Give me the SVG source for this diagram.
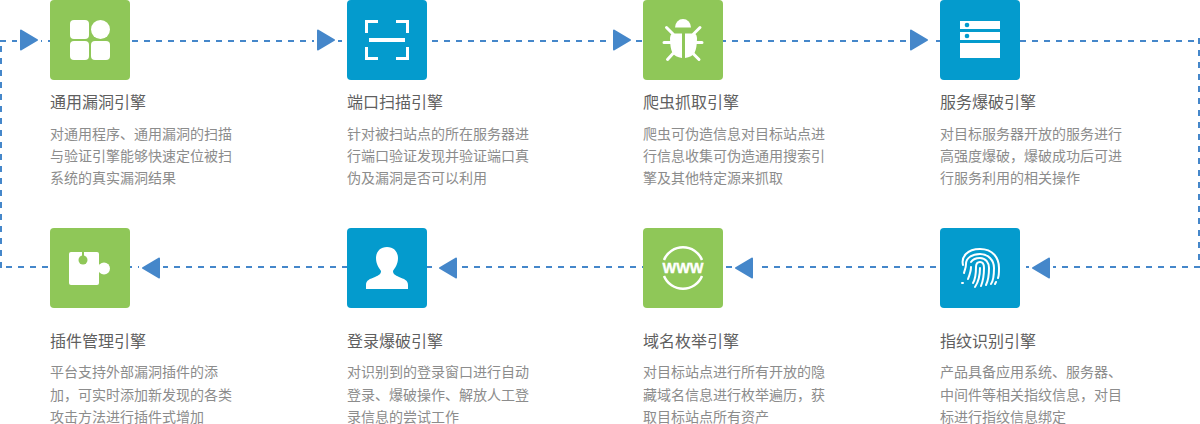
<svg xmlns="http://www.w3.org/2000/svg" width="1200" height="424" viewBox="0 0 1200 424">
<style>
text{font-family:"Noto Sans CJK SC","Noto Sans",sans-serif}
.t{font-size:16px;fill:#5f5f5f}
.d{font-size:14px;fill:#8c8c8c}
.dash{fill:none;stroke:#4587ca;stroke-width:2;stroke-dasharray:6 6}
.arr{fill:#4587ca;stroke:#4587ca;stroke-width:2;stroke-linejoin:round}
.g{fill:#8fc758}
.b{fill:#049bcd}
.w{fill:#fff}
.ws{fill:none;stroke:#fff;stroke-width:2.500}
.h{fill:#fff}
</style>
<g id="connectors">
<path class="dash" d="M0 41H1200"/>
<path class="dash" d="M1199 38V268"/>
<path class="dash" d="M1200 267H0" stroke-dashoffset="0"/>
<path class="dash" d="M1 46V268"/>
<rect x="17" y="26" width="24" height="30" class="h"/><rect x="314" y="26" width="24" height="30" class="h"/><rect x="610" y="26" width="24" height="30" class="h"/><rect x="907" y="26" width="24" height="30" class="h"/>
<rect x="139" y="253" width="24" height="30" class="h"/><rect x="436" y="253" width="24" height="30" class="h"/><rect x="732" y="253" width="24" height="30" class="h"/><rect x="1029" y="253" width="24" height="30" class="h"/>
<path class="arr" d="M21 30.500L37 40L21 49.500Z"/>
<path class="arr" d="M318 30.500L334 40L318 49.500Z"/>
<path class="arr" d="M614 30.500L630 40L614 49.500Z"/>
<path class="arr" d="M911 30.500L927 40L911 49.500Z"/>
<path class="arr" d="M159 258.500L143 268L159 277.500Z"/>
<path class="arr" d="M456 258.500L440 268L456 277.500Z"/>
<path class="arr" d="M752 258.500L736 268L752 277.500Z"/>
<path class="arr" d="M1049 258.500L1033 268L1049 277.500Z"/>
</g>
<g id="node1">
<rect x="50" y="0" width="80" height="80" rx="4" class="g"/>
<rect x="70" y="20" width="19" height="19" rx="4" class="w"/><circle cx="100.500" cy="29.500" r="9.500" class="w"/>
<rect x="70" y="41" width="19" height="19" rx="4" class="w"/><rect x="91" y="41" width="19" height="19" rx="4" class="w"/>
<text class="t" x="50" y="108">通用漏洞引擎</text>
<text class="d" x="50" y="139">对通用程序、通用漏洞的扫描</text>
<text class="d" x="50" y="161">与验证引擎能够快速定位被扫</text>
<text class="d" x="50" y="183">系统的真实漏洞结果</text>
</g>
<g id="node2">
<rect x="347" y="0" width="80" height="80" rx="4" class="b"/>
<path fill="none" stroke="#fff" stroke-width="3" d="M378 21.500H366.500V33M396 21.500H407.500V33M378 58.500H366.500V47M396 58.500H407.500V47"/>
<rect x="369" y="38" width="36" height="4" class="w"/>
<text class="t" x="347" y="108">端口扫描引擎</text>
<text class="d" x="347" y="139">针对被扫站点的所在服务器进</text>
<text class="d" x="347" y="161">行端口验证发现并验证端口真</text>
<text class="d" x="347" y="183">伪及漏洞是否可以利用</text>
</g>
<g id="node3">
<rect x="643" y="0" width="80" height="80" rx="4" class="g"/>
<path class="w" d="M675 27.500a8 8.500 0 0 1 16 0Z"/>
<path class="w" d="M672 33.500H682V58Q675 57 672.500 53Q670 48 670 38Q670 35 672 33.500ZM685 33.500H695Q697 35 697 38Q697 48 694.500 53Q692 57 685 58Z"/>
<path fill="none" stroke="#fff" stroke-width="3" stroke-linecap="round" d="M666.500 27.500L673 34M700 27.500L693.500 34M664 42.500H672M702 42.500H695M667.500 59.500L673 53.500M699 59.500L693.500 54"/>
<text class="t" x="643" y="108">爬虫抓取引擎</text>
<text class="d" x="643" y="139">爬虫可伪造信息对目标站点进</text>
<text class="d" x="643" y="161">行信息收集可伪造通用搜索引</text>
<text class="d" x="643" y="183">擎及其他特定源来抓取</text>
</g>
<g id="node4">
<rect x="940" y="0" width="80" height="80" rx="4" class="b"/>
<rect x="960" y="21" width="40" height="8" class="w"/><rect x="960" y="32" width="40" height="8" class="w"/><rect x="960" y="43" width="40" height="15" class="w"/>
<circle cx="967" cy="25" r="2.300" class="b"/><circle cx="967" cy="36" r="2.300" class="b"/>
<text class="t" x="940" y="108">服务爆破引擎</text>
<text class="d" x="940" y="139">对目标服务器开放的服务进行</text>
<text class="d" x="940" y="161">高强度爆破，爆破成功后可进</text>
<text class="d" x="940" y="183">行服务利用的相关操作</text>
</g>
<g id="node5">
<rect x="50" y="228" width="80" height="80" rx="4" class="g"/>
<rect x="69" y="252" width="30" height="33" rx="2" class="w"/>
<circle cx="104" cy="268.500" r="6" class="w"/>
<rect x="82" y="252" width="2" height="5" class="g"/><circle cx="83" cy="260" r="4.500" class="g"/>
<text class="t" x="50" y="347">插件管理引擎</text>
<text class="d" x="50" y="377">平台支持外部漏洞插件的添</text>
<text class="d" x="50" y="399.500">加，可实时添加新发现的各类</text>
<text class="d" x="50" y="421.500">攻击方法进行插件式增加</text>
</g>
<g id="node6">
<rect x="347" y="228" width="80" height="80" rx="4" class="b"/>
<path class="w" d="M387 247C380 247 376 252 376 258C376 264 379 268 381 271C381 274 379 275 375 277C370 279 366 280 366 285V289H408V285C408 280 404 279 399 277C395 275 393 274 393 271C395 268 398 264 398 258C398 252 394 247 387 247Z"/>
<text class="t" x="347" y="347">登录爆破引擎</text>
<text class="d" x="347" y="377">对识别到的登录窗口进行自动</text>
<text class="d" x="347" y="399.500">登录、爆破操作、解放人工登</text>
<text class="d" x="347" y="421.500">录信息的尝试工作</text>
</g>
<g id="node7">
<rect x="643" y="228" width="80" height="80" rx="4" class="g"/>
<path class="ws" d="M664 260A20.500 20.500 0 0 1 702 260M664 276A20.500 20.500 0 0 0 702 276"/>
<text x="683" y="273" text-anchor="middle" style="font-family:'Liberation Sans',sans-serif;font-size:14.500px;font-weight:700;fill:#fff;stroke:#fff;stroke-width:.4">WWW</text>
<text class="t" x="643" y="347">域名枚举引擎</text>
<text class="d" x="643" y="377">对目标站点进行所有开放的隐</text>
<text class="d" x="643" y="399.500">藏域名信息进行枚举遍历，获</text>
<text class="d" x="643" y="421.500">取目标站点所有资产</text>
</g>
<g id="node8">
<rect x="940" y="228" width="80" height="80" rx="4" class="b"/>
<g fill="none" stroke="#fff" stroke-width="2" stroke-linecap="round">
<path d="M963 265C961 257 967 249 980 249C993 249 999 258 999 268C999 272 999 276 998 278"/>
<path d="M964 273C964.500 270 966 268 966 264C966 258 972 254 980 254C988 254 994 260 994 268C994 273 994 280 991 284"/>
<path d="M971 262C973 259 976 258 980 258C986 258 989 263 989 268C989 274 988 281 986 285"/>
<path d="M968 279C970 274 971 270 971 267"/>
<path d="M973 283C976 278 976 272 976 267C976 263 978 262 980 262C983 262 984 265 984 268C984 274 983 281 981 286"/>
<path d="M975 287C979 281 980 274 980 268"/>
<path d="M962 283H963M996 282L995 284"/>
</g>
<text class="t" x="940" y="347">指纹识别引擎</text>
<text class="d" x="940" y="377">产品具备应用系统、服务器、</text>
<text class="d" x="940" y="399.500">中间件等相关指纹信息，对目</text>
<text class="d" x="940" y="421.500">标进行指纹信息绑定</text>
</g>
</svg>
